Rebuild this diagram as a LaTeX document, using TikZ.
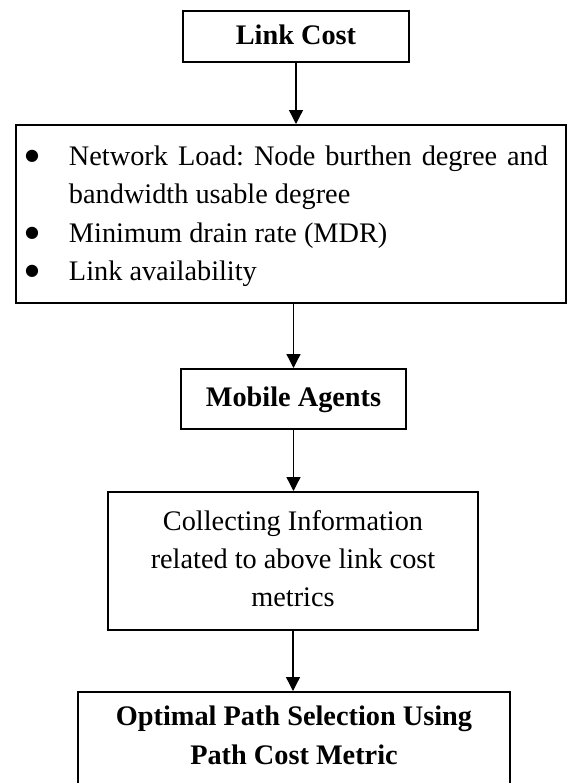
\documentclass[tikz,border=0pt]{standalone}
\usepackage{fontspec}
\setmainfont{Liberation Serif}
\newfontfamily\dotfont{DejaVu Sans}
\usetikzlibrary{arrows.meta}
\frenchspacing
\newcommand{\bigdot}{\makebox[10pt]{\raisebox{2.4pt}{\dotfont\fontsize{8pt}{8pt}\selectfont ●}}}

\tikzset{
	box/.style={draw, line width=1pt, inner xsep=0pt, inner ysep=0pt, font=\fontsize{14.15pt}{19.15pt}\selectfont},
	titlebox/.style={box, align=flush center, execute at begin node=\strut, execute at end node=\strut},
	link/.style={line width=0.65pt, -{Triangle[length=7pt, width=7pt]}}
}

\begin{document}
\begin{tikzpicture}[x=0.5pt, y=-0.5pt]
		%%%%% START %%%%%
		
		\useasboundingbox (0, 0) rectangle (568, 783);
		\clip (0, 0) rectangle (568, 783);
		
		\node[titlebox, text width=113pt, minimum height=25.5pt] (cost) at (296, 36.5) {\textbf{Link Cost}};
		
		\node[box, text width=275pt, minimum height=89pt, align=justify] (load) at (291, 214) {%
			\begin{list}{\bigdot}{\leftmargin=26.5pt \rightmargin=9pt \labelwidth=10pt \labelsep=13.5pt
				\topsep=0pt \partopsep=0pt \parsep=0pt \itemsep=0pt}
			\item Network Load: Node burthen degree and\linebreak bandwidth usable degree
			\item Minimum drain rate (MDR)
			\item Link availability
			\end{list}\par\kern7pt};
		
		\node[titlebox, text width=112.5pt, minimum height=30pt] (agents) at (293.5, 399) {\textbf{Mobile Agents}};
		
		\node[titlebox, text width=185pt, minimum height=69pt] (info) at (293, 561) {Collecting Information\\ related to above link cost\\ metrics};
		
		\node[titlebox, text width=216pt, inner ysep=3.5pt, text depth=40pt, anchor=north] (path) at (294, 691) {\textbf{Optimal Path Selection Using}\\ \textbf{Path Cost Metric}};
		
		\draw[link] (cost.south) -- (cost.south |- load.north);
		\draw[link] (agents.north |- load.south) -- (agents.north);
		\draw[link] (agents.south) -- (agents.south |- info.north);
		\draw[link] (info.south) -- (info.south |- path.north);
		
		%%%%% END %%%%%
	\end{tikzpicture}
\end{document}
